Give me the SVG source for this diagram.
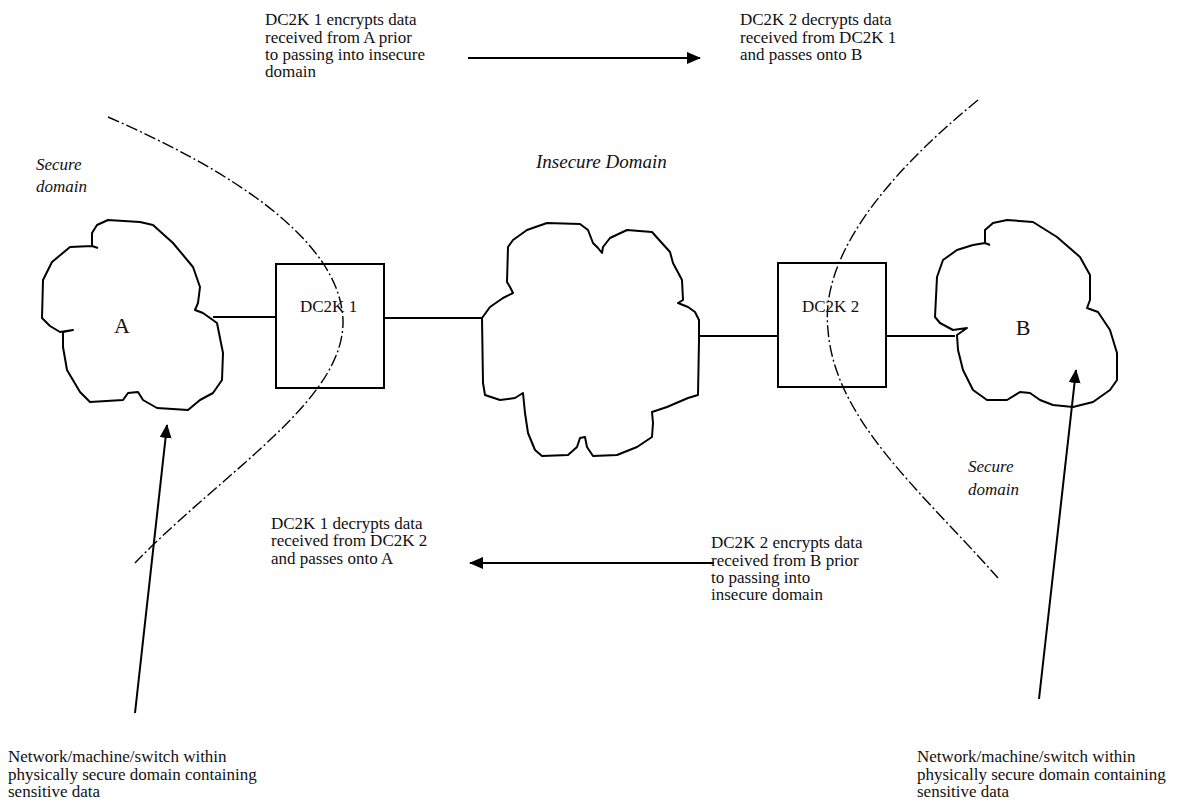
<svg xmlns="http://www.w3.org/2000/svg" width="1194" height="810" viewBox="0 0 1194 810">
<style>
.t{font-family:"Liberation Serif","Times New Roman",serif;font-size:17px;fill:#111}
.i{font-family:"Liberation Serif","Times New Roman",serif;font-size:17px;font-style:italic;fill:#111}
.cloud{fill:none;stroke:#000;stroke-width:2;stroke-linejoin:round}
.box{fill:none;stroke:#000;stroke-width:2}
.ln{stroke:#000;stroke-width:2;fill:none}
.dash{stroke:#000;stroke-width:1.4;fill:none;stroke-dasharray:12 3 2 3}
</style>
<defs>
<marker id="ah" markerWidth="14" markerHeight="12" refX="13" refY="6" orient="auto" markerUnits="userSpaceOnUse">
<path d="M0,0 L14,6 L0,12 Z" fill="#000"/>
</marker>
</defs>
<rect width="1194" height="810" fill="#fff"/>

<g id="boundaries">
<path class="dash" d="M108,117 C230,170 340,240 343,320 C345,400 225,470 135,563"/>
<path class="dash" d="M978,100 C880,180 820,260 828,330 C835,420 920,490 998,578"/>
</g>

<g id="cloudA">
<path class="cloud" d="M98,248 L92,246 L92,233 L97,225 L108,220 L140,222 L153,225 L173,243 L193,267 L200,287 L198,303 L195,310 L203,313 L217,323 L223,353 L222,380 L213,393 L200,400 L188,410 L157,408 L143,400 L138,392 L128,393 L123,400 L90,402 L80,392 L67,370 L63,347 L63,332 L73,330 L60,332 L50,326 L42,318 L43,280 L52,262 L70,247 L92,246"/>
<text class="t" x="122" y="333" text-anchor="middle" style="font-size:22px">A</text>
</g>

<g id="dc2k1">
<rect class="box" x="276" y="264" width="108" height="124"/>
<text class="t" x="300" y="312">DC2K 1</text>
</g>

<g id="insecure">
<path class="cloud" d="M482,318 L490,307 L503,298 L513,293 L510,287 L507,282 L508,247 L513,240 L527,230 L547,223 L580,224 L588,230 L593,243 L598,248 L602,253 L603,247 L610,238 L627,230 L652,232 L670,252 L673,263 L682,280 L683,300 L678,303 L688,307 L695,312 L699,320 L699,340 L698,395 L688,398 L667,407 L652,412 L653,423 L652,437 L637,447 L617,455 L593,456 L587,447 L585,437 L580,438 L577,447 L568,455 L542,456 L535,450 L528,433 L525,413 L523,393 L515,398 L500,400 L485,395 L483,383 Z"/>
</g>

<g id="dc2k2">
<rect class="box" x="778" y="263" width="108" height="124"/>
<text class="t" x="802" y="312">DC2K 2</text>
</g>

<g id="cloudB">
<path class="cloud" d="M990,245 L985,243 L985,230 L993,223 L1007,220 L1033,222 L1057,237 L1080,257 L1090,275 L1090,300 L1087,308 L1098,312 L1110,330 L1117,353 L1117,380 L1110,390 L1093,402 L1073,407 L1053,405 L1040,400 L1030,393 L1020,392 L1007,400 L987,400 L973,390 L963,370 L958,350 L957,335 L967,328 L953,330 L940,323 L935,317 L937,277 L943,260 L957,250 L973,245 L985,243"/>
<text class="t" x="1023" y="335" text-anchor="middle" style="font-size:22px">B</text>
</g>

<g id="connectors">
<line class="ln" x1="213" y1="317" x2="276" y2="317"/>
<line class="ln" x1="384" y1="318" x2="482" y2="318"/>
<line class="ln" x1="699" y1="336" x2="778" y2="336"/>
<line class="ln" x1="886" y1="336" x2="955" y2="336"/>
<line class="ln" x1="468" y1="58" x2="700" y2="58" marker-end="url(#ah)"/>
<line class="ln" x1="714" y1="563" x2="470" y2="563" marker-end="url(#ah)"/>
<line class="ln" x1="135" y1="713" x2="167" y2="425" marker-end="url(#ah)"/>
<line class="ln" x1="1039" y1="699" x2="1076" y2="370" marker-end="url(#ah)"/>
</g>

<g id="labels">
<text class="t" x="265" y="25">DC2K 1 encrypts data</text>
<text class="t" x="265" y="43">received from A prior</text>
<text class="t" x="265" y="60">to passing into insecure</text>
<text class="t" x="265" y="77">domain</text>

<text class="t" x="740" y="25">DC2K 2 decrypts data</text>
<text class="t" x="740" y="43">received from DC2K 1</text>
<text class="t" x="740" y="60">and passes onto B</text>

<text class="i" x="36" y="170">Secure</text>
<text class="i" x="36" y="192">domain</text>
<text class="i" x="536" y="168" style="font-size:19px">Insecure Domain</text>
<text class="i" x="968" y="472">Secure</text>
<text class="i" x="968" y="495">domain</text>

<text class="t" x="271" y="529">DC2K 1 decrypts data</text>
<text class="t" x="271" y="546">received from DC2K 2</text>
<text class="t" x="271" y="564">and passes onto A</text>

<text class="t" x="711" y="548">DC2K 2 encrypts data</text>
<text class="t" x="711" y="566">received from B prior</text>
<text class="t" x="711" y="583">to passing into</text>
<text class="t" x="711" y="600">insecure domain</text>

<text class="t" x="8" y="762">Network/machine/switch within</text>
<text class="t" x="8" y="780">physically secure domain containing</text>
<text class="t" x="8" y="797">sensitive data</text>

<text class="t" x="917" y="762">Network/machine/switch within</text>
<text class="t" x="917" y="780">physically secure domain containing</text>
<text class="t" x="917" y="797">sensitive data</text>
</g>
</svg>
